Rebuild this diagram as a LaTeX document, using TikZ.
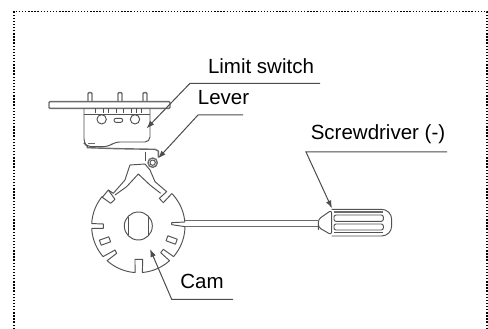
\documentclass[tikz,border=0pt]{standalone}
\usepackage{fontspec}
\setmainfont{Liberation Sans}
\usetikzlibrary{arrows.meta}
\tikzset{
  part/.style={draw=black!68,line width=0.95pt,line join=round},
  thick part/.style={draw=black!58,line width=1.4pt,line join=round},
  leader/.style={draw=black!70,line width=1pt},
  pointer/.style={leader,-{Latex[length=8pt,width=5.5pt]}},
  label/.style={font=\fontsize{20.5pt}{23pt}\selectfont,inner sep=0pt,text=black},
  frame/.style={draw=black,line width=1.5pt,dash pattern=on 1.4pt off 1.7pt},
  zoomA/.style={shift={(30,40)},x=0.3333pt,y=-0.3333pt},
  zoomB/.style={shift={(70,160)},x=0.3333pt,y=-0.3333pt},
  zoomC/.style={shift={(230,120)},x=0.3333pt,y=-0.3333pt},
  rim/.style={samples=24}
}
\begin{document}
\begin{tikzpicture}[x=1pt,y=-1pt]
\useasboundingbox (0,0) rectangle (488,329);
\fill[white] (0,0) rectangle (488,329);
\draw[frame] (14,329) -- (14,11.5) -- (487,11.5) -- (487,329);

% limit switch
\begin{scope}[zoomA]
  \draw[thick part,rounded corners=1pt] (57,185) rectangle (420,205);
  \foreach \p in {180,270,345}
    \draw[thick part,rounded corners=1pt] (\p-6,185) -- (\p-6,158) -- (\p+6,158) -- (\p+6,185);
  \draw[part,rounded corners=5pt] (162,205) -- (162,310) -- (172,320) -- (235,320) -- (255,306) -- (360,306) -- (360,205);
  \draw[part] (162,222) -- (360,222);
  \foreach \p in {195,220,235,260,280,305,320,335}
    \draw[part] (\p,205) -- (\p,220);
  \draw[part] (215,238) circle[radius=14];
  \draw[part] (315,238) circle[radius=14];
  \draw[part,rounded corners=2pt] (252,235) rectangle (278,247);
  \draw[thick part] (175,310) -- (195,310);
  \draw[thick part] (170,323) -- (260,326) -- (375,328) -- (385,333) -- (385,352);
  \draw[part] (345,335) -- (345,362);
  \draw[thick part] (368,368) circle[radius=14];
  \draw[part] (368,368) circle[radius=8];
\end{scope}

% cam
\begin{scope}[zoomB]
  \draw[part] plot[rim,domain=5:44] ({205+140*cos(\x)},{198-140*sin(\x)})
    -- (280,128) -- (268,115) -- (290,95)
    -- (255,65) -- (240,30) -- (225,12) -- (180,15) -- (165,60) -- (130,100) -- (115,90)
    -- (97,112)
    -- plot[rim,domain=141:177] ({205+140*cos(\x)},{198-140*sin(\x)})
    -- (100,192) -- (100,205)
    -- plot[rim,domain=183:221] ({205+140*cos(\x)},{198-140*sin(\x)})
    -- (135,270) -- (140,280)
    -- plot[rim,domain=228:266] ({205+140*cos(\x)},{198-140*sin(\x)})
    -- (195,298) -- (218,298)
    -- plot[rim,domain=275:312] ({205+140*cos(\x)},{198-140*sin(\x)})
    -- (272,278) -- (280,268)
    -- plot[rim,domain=319:359] ({205+140*cos(\x)},{198-140*sin(\x)});
  \draw[part] (345,186) -- (305,188) -- (305,194) -- (345,200);
  \draw[part] (97,112) -- (122,130) -- (135,118) -- (115,90);
  \draw[part] (135,105) -- (170,80) -- (205,42) -- (240,75) -- (272,100);
  \draw[part] (205,198) circle[radius=42];
  \draw[part] (175,170) -- (175,226) (235,170) -- (235,226);
  \draw[part,rotate around={20:(105,243)}] (90,235) rectangle (120,251);
  \draw[part,rotate around={-20:(305,240)}] (290,232) rectangle (320,248);
\end{scope}

% screwdriver
\begin{scope}[zoomC]
  \draw[thick part] (-135,302) -- (265,302) (-135,320) -- (265,320);
  \draw[part,rounded corners=3pt] (265,320) -- (265,298) -- (305,270) -- (305,345) -- (265,322) -- cycle;
  \draw[part,rounded corners=10pt] (305,268) -- (485,268) -- (485,348) -- (305,348);
  \draw[part,rounded corners=2pt] (312,285) rectangle (460,304);
  \draw[part,rounded corners=2pt] (312,312) rectangle (460,330);
  \draw[part] (312,338) -- (460,338);
  \draw[thick part] (312,276) -- (460,276);
\end{scope}

% labels and leaders
\node[label] (limit) at (261,66.5) {Limit switch};
\node[label] (lever) at (223.5,98) {Lever};
\node[label] (driver) at (378,134) {Screwdriver (-)};
\node[label] (cam) at (202,281.5) {Cam};

\coordinate (limitEnd) at (320,83.3);
\coordinate (limitKnee) at (190,83.3);
\coordinate (limitTip) at (146.5,128.5);
\coordinate (leverEnd) at (243,115);
\coordinate (leverKnee) at (198,115);
\coordinate (leverTip) at (158,158.5);
\coordinate (driverEnd) at (447,152);
\coordinate (driverKnee) at (306,152);
\coordinate (driverTip) at (332,208.5);
\coordinate (camEnd) at (233,299.3);
\coordinate (camKnee) at (171.7,299.3);
\coordinate (camTip) at (150,249);

\draw[pointer] (limitEnd) -- (limitKnee) -- (limitTip);
\draw[pointer] (leverEnd) -- (leverKnee) -- (leverTip);
\draw[pointer] (driverEnd) -- (driverKnee) -- (driverTip);
\draw[pointer] (camEnd) -- (camKnee) -- (camTip);
\end{tikzpicture}
\end{document}
